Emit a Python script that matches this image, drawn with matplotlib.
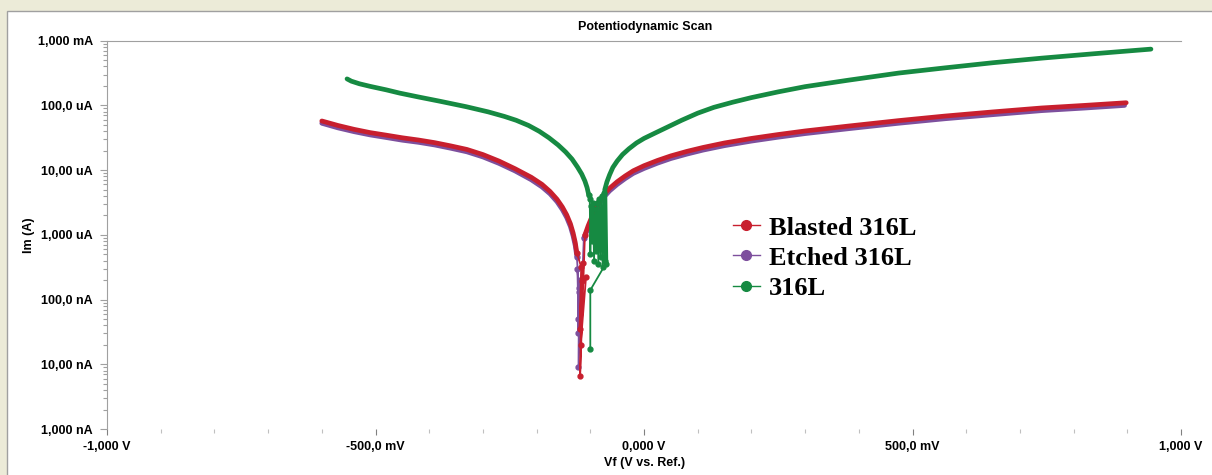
import matplotlib
matplotlib.use("Agg")
import matplotlib.pyplot as plt
from matplotlib.patches import Rectangle
from matplotlib.ticker import FixedLocator, LogLocator, NullFormatter
from matplotlib.transforms import ScaledTranslation

# potential (V) and current (A)
blasted_cath_v = [-0.600, -0.570, -0.540, -0.510, -0.480, -0.450, -0.420, -0.390, -0.360, -0.330,
                  -0.300, -0.270, -0.240, -0.210, -0.190, -0.175, -0.162, -0.152, -0.144, -0.137,
                  -0.132, -0.128, -0.125]
blasted_cath_i = [5.75e-5, 4.90e-5, 4.27e-5, 3.80e-5, 3.47e-5, 3.16e-5, 2.92e-5, 2.66e-5, 2.37e-5,
                  2.09e-5, 1.74e-5, 1.38e-5, 1.05e-5, 7.76e-6, 6.03e-6, 4.68e-6, 3.55e-6, 2.69e-6,
                  2.04e-6, 1.48e-6, 1.07e-6, 7.6e-7, 5.2e-7]
blasted_noise_v = [-0.125, -0.117, -0.120, -0.114, -0.118, -0.108, -0.116, -0.119, -0.110]
blasted_noise_i = [5.2e-7, 3.2e-7, 3.5e-8, 3.7e-7, 2.0e-8, 2.2e-7, 1.95e-7, 6.6e-9, 1.0e-6]
blasted_anod_v = [-0.110, -0.104, -0.097, -0.090, -0.083, -0.074, -0.064, -0.050, -0.035, -0.020,
                  0.000, 0.025, 0.050, 0.080, 0.110, 0.150, 0.200, 0.250, 0.300, 0.380, 0.474,
                  0.560, 0.650, 0.740, 0.820, 0.898]
blasted_anod_i = [1.0e-6, 1.38e-6, 1.91e-6, 2.63e-6, 3.39e-6, 4.27e-6, 5.25e-6, 6.61e-6, 8.13e-6,
                  9.77e-6, 1.17e-5, 1.41e-5, 1.66e-5, 1.95e-5, 2.24e-5, 2.63e-5, 3.09e-5, 3.55e-5,
                  4.03e-5, 4.79e-5, 5.82e-5, 6.84e-5, 7.94e-5, 9.12e-5, 1.0e-4, 1.10e-4]

etched_cath_v = [-0.600, -0.570, -0.540, -0.510, -0.480, -0.450, -0.420, -0.390, -0.360, -0.330,
                 -0.300, -0.270, -0.240, -0.210, -0.190, -0.175, -0.162, -0.152, -0.144, -0.137,
                 -0.132, -0.128, -0.125]
etched_cath_i = [5.3e-5, 4.5e-5, 3.93e-5, 3.5e-5, 3.19e-5, 2.9e-5, 2.69e-5, 2.45e-5, 2.18e-5,
                 1.92e-5, 1.6e-5, 1.27e-5, 9.7e-6, 7.1e-6, 5.5e-6, 4.3e-6, 3.25e-6, 2.45e-6,
                 1.85e-6, 1.34e-6, 9.6e-7, 6.8e-7, 4.6e-7]
etched_noise_v = [-0.125, -0.121, -0.124, -0.122, -0.120, -0.123, -0.121, -0.122, -0.112]
etched_noise_i = [4.6e-7, 1.3e-7, 3.0e-7, 5.0e-8, 2.0e-7, 3.0e-8, 1.5e-7, 9.0e-9, 9.0e-7]
etched_anod_v = [-0.112, -0.104, -0.097, -0.090, -0.083, -0.074, -0.064, -0.050, -0.035, -0.020,
                 0.000, 0.025, 0.050, 0.080, 0.110, 0.150, 0.200, 0.250, 0.300, 0.380, 0.474,
                 0.560, 0.650, 0.740, 0.820, 0.895]
etched_anod_i = [9.0e-7, 1.25e-6, 1.73e-6, 2.4e-6, 3.08e-6, 3.88e-6, 4.78e-6, 6.0e-6, 7.4e-6,
                 8.9e-6, 1.06e-5, 1.28e-5, 1.51e-5, 1.77e-5, 2.04e-5, 2.39e-5, 2.81e-5, 3.23e-5,
                 3.67e-5, 4.36e-5, 5.3e-5, 6.22e-5, 7.2e-5, 8.3e-5, 9.1e-5, 1.0e-4]

plain_cath_v = [-0.553, -0.545, -0.530, -0.510, -0.480, -0.455, -0.420, -0.380, -0.331, -0.290,
                -0.260, -0.238, -0.215, -0.195, -0.177, -0.160, -0.146, -0.134, -0.124, -0.116,
                -0.110, -0.106, -0.103]
plain_cath_i = [2.57e-4, 2.37e-4, 2.16e-4, 1.97e-4, 1.74e-4, 1.55e-4, 1.35e-4, 1.16e-4, 9.55e-5,
                7.94e-5, 6.76e-5, 5.89e-5, 4.9e-5, 3.98e-5, 3.16e-5, 2.45e-5, 1.91e-5, 1.48e-5,
                1.12e-5, 8.7e-6, 6.76e-6, 5.37e-6, 4.17e-6]
plain_noise_v = [-0.103, -0.101, -0.100, -0.098, -0.097, -0.095, -0.093, -0.091, -0.089, -0.087,
                 -0.085, -0.083, -0.081, -0.079, -0.077, -0.075, -0.073, -0.071, -0.100, -0.100]
plain_noise_i = [4.17e-6, 3.55e-6, 5.0e-7, 2.82e-6, 7.9e-7, 3.16e-6, 4.0e-7, 2.51e-6, 5.6e-7,
                 3.16e-6, 3.55e-7, 3.55e-6, 4.5e-7, 3.98e-6, 3.16e-7, 4.47e-6, 4.0e-7, 3.6e-7,
                 1.4e-7, 1.7e-8]
plain_anod_v = [-0.071, -0.073, -0.069, -0.064, -0.058, -0.050, -0.040, -0.028, -0.014, 0.000,
                0.020, 0.045, 0.070, 0.100, 0.130, 0.165, 0.200, 0.250, 0.300, 0.380, 0.474,
                0.560, 0.650, 0.740, 0.840, 0.944]
plain_anod_i = [3.6e-7, 5.0e-6, 6.6e-6, 8.5e-6, 1.1e-5, 1.38e-5, 1.74e-5, 2.14e-5, 2.63e-5,
                3.09e-5, 3.72e-5, 4.68e-5, 5.89e-5, 7.59e-5, 9.33e-5, 1.12e-4, 1.32e-4, 1.62e-4,
                1.95e-4, 2.45e-4, 3.16e-4, 3.8e-4, 4.57e-4, 5.37e-4, 6.31e-4, 7.41e-4]

x_ticks = [-1.0, -0.5, 0.0, 0.5, 1.0]
x_labels = ["-1,000 V", "-500,0 mV", "0,000 V", "500,0 mV", "1,000 V"]
y_ticks = [1e-9, 1e-8, 1e-7, 1e-6, 1e-5, 1e-4, 1e-3]
y_labels = ["1,000 nA", "10,00 nA", "100,0 nA", "1,000 uA", "10,00 uA", "100,0 uA", "1,000 mA"]

RED = "#c81f2e"
PURPLE = "#7d4f9d"
GREEN = "#168a42"
GRID_GRAY = "#a0a0a0"

plt.rcParams["font.family"] = ["Liberation Sans", "DejaVu Sans"]

fig = plt.figure(figsize=(12.12, 4.75), dpi=100, facecolor="#ecebd8")
fig.patches.append(Rectangle((7 / 1212, -0.05), 1.1, 1 - 10.7 / 475 + 0.05,
                             transform=fig.transFigure, facecolor="white",
                             edgecolor=GRID_GRAY, linewidth=1.0, zorder=-10))

ax = fig.add_axes([107 / 1212, 1 - 429 / 475, (1181 - 107) / 1212, (429 - 40.7) / 475])
ax.set_facecolor("none")
ax.set_zorder(5)

series = [
    ("Etched 316L", PURPLE, etched_cath_v, etched_cath_i, etched_noise_v, etched_noise_i,
     etched_anod_v, etched_anod_i),
    ("Blasted 316L", RED, blasted_cath_v, blasted_cath_i, blasted_noise_v, blasted_noise_i,
     blasted_anod_v, blasted_anod_i),
    ("316L", GREEN, plain_cath_v, plain_cath_i, plain_noise_v, plain_noise_i,
     plain_anod_v, plain_anod_i),
]
handles = {}
for name, color, cv, ci, nv, ni, av, ai in series:
    ax.plot(cv, ci, color=color, lw=3.4, solid_capstyle="round", solid_joinstyle="round")
    ax.plot(nv, ni, color=color, lw=1.3, marker="o", ms=3.5)
    ax.plot(av, ai, color=color, lw=3.4, solid_capstyle="round", solid_joinstyle="round")
    handles[name], = ax.plot([], [], color=color, lw=1.0, marker="o", ms=7)

ax.set_yscale("log")
ax.set_xlim(-1.0, 1.0)
ax.set_ylim(1e-9, 1e-3)

ax.xaxis.set_major_locator(FixedLocator(x_ticks))
ax.set_xticklabels(x_labels)
ax.xaxis.set_minor_locator(FixedLocator([-0.9, -0.8, -0.7, -0.6, -0.4, -0.3, -0.2, -0.1,
                                         0.1, 0.2, 0.3, 0.4, 0.6, 0.7, 0.8, 0.9]))
ax.yaxis.set_major_locator(FixedLocator(y_ticks))
ax.set_yticklabels(y_labels)
ax.yaxis.set_minor_locator(LogLocator(base=10, subs=range(2, 10), numticks=20))
ax.yaxis.set_minor_formatter(NullFormatter())

for lab in ax.get_xticklabels() + ax.get_yticklabels():
    lab.set_fontweight("bold")
# the instrument software draws its x labels a few pixels left of the ticks
shift = ScaledTranslation(-4 / 100, 0, fig.dpi_scale_trans)
for lab in ax.get_xticklabels():
    lab.set_transform(lab.get_transform() + shift)

ax.tick_params(axis="y", which="major", length=5, width=0.8, color=GRID_GRAY, labelsize=9, pad=5)
ax.tick_params(axis="y", which="minor", length=3, width=0.8, color=GRID_GRAY)
ax.tick_params(axis="x", which="major", length=4, width=0.8, color="#808080", labelsize=9, pad=5)
ax.tick_params(axis="x", which="minor", length=3, width=0.8, color="#c0c0c0")

ax.spines["right"].set_visible(False)
ax.spines["bottom"].set_visible(False)
ax.spines["left"].set_color(GRID_GRAY)
ax.spines["top"].set_color(GRID_GRAY)

fig.text(645 / 1212, 1 - 27 / 475, "Potentiodynamic Scan", ha="center", va="center",
         fontsize=9, fontweight="bold")
fig.text(645 / 1212, 1 - 463 / 475, "Vf (V vs. Ref.)", ha="center", va="center",
         fontsize=9, fontweight="bold")
fig.text(29 / 1212, 1 - 235 / 475, "Im (A)", ha="center", va="center", rotation=90,
         fontsize=9, fontweight="bold")

leg = ax.legend([handles["Blasted 316L"], handles["Etched 316L"], handles["316L"]],
                ["Blasted 316L", "Etched 316L", "316L"],
                loc="upper left", bbox_to_anchor=(720 / 1212, 1 - 203 / 475),
                bbox_transform=fig.transFigure, frameon=False, borderpad=0,
                labelspacing=0.25, handlelength=1.0, handletextpad=0.35,
                prop={"family": "Liberation Serif", "weight": "bold", "size": 19})

fig.savefig("out.png", dpi=100, facecolor=fig.get_facecolor())
